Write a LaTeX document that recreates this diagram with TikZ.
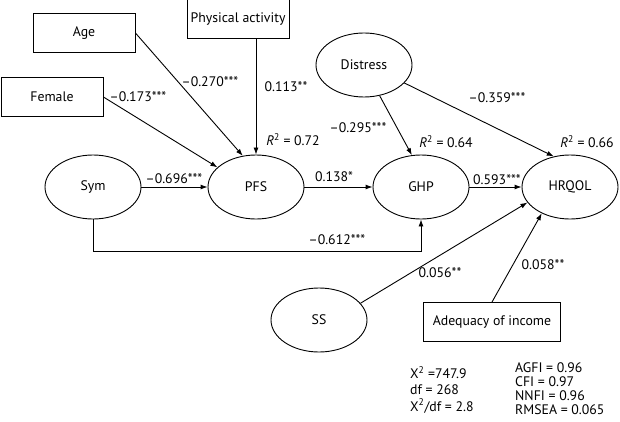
\documentclass[tikz,border=0pt]{standalone}
\usepackage{fontspec}
\setmainfont{PT Sans}
\usetikzlibrary{shapes.geometric,arrows.meta,calc}

\tikzset{
    var/.style={draw, line width=0.9pt, minimum width=102pt, minimum height=39pt, inner sep=2pt},
    latent/.style={draw, ellipse, line width=0.9pt, minimum width=96pt, minimum height=64pt},
    arr/.style={line width=0.9pt, -{Latex[length=7pt,width=5pt]}},
    coef/.style={inner sep=1pt},
    fit/.style={inner sep=0pt, anchor=west}
}

\begin{document}
\begin{tikzpicture}[x=1pt, y=-1pt, font=\fontsize{13.8}{15}\selectfont]

    \useasboundingbox (0,0) rectangle (620,422);

    % Observed variables (boxes)
    \node[var] (age) at (84,33) {Age};
    \node[var] (phys) at (238,19) {Physical activity};
    \node[var] (female) at (52,97) {Female};
    \node[var, minimum width=137pt] (income) at (492,322) {Adequacy of income};

    % Latent variables (ellipses)
    \node[latent] (sym) at (93,187) {Sym};
    \node[latent] (pfs) at (256,187) {PFS};
    \node[latent] (ghp) at (421,187) {GHP};
    \node[latent] (hrqol) at (570,187) {HRQOL};
    \node[latent] (distress) at (364,65) {Distress};
    \node[latent] (ss) at (319,320) {SS};

    % Paths
    \draw[arr] (age.east) -- (pfs.113);
    \draw[arr] (phys.south -| pfs.north) -- (pfs.north);
    \draw[arr] (female.east) -- (pfs.153);
    \draw[arr] (sym.east) -- (pfs.west);
    \draw[arr] (pfs.east) -- (ghp.west);
    \draw[arr] (ghp.east) -- (hrqol.west);
    \draw[arr] (sym.south) -- ++(0,32) -| (ghp.south);
    \draw[arr] (distress.297) -- (ghp.106);
    \draw[arr] (distress.-24) -- (hrqol.118);
    \draw[arr] (ss.22) -- (hrqol.200);
    \draw[arr] (income.north) -- (hrqol.223);

    % Path coefficients
    \node[coef] (c1) at (210,82) {--0.270***};
    \node[coef] (c2) at (286,87) {0.113**};
    \node[coef] (c3) at (138,97) {--0.173***};
    \node[coef] (c4) at (174,179) {--0.696***};
    \node[coef] (c5) at (334,177) {0.138*};
    \node[coef] (c6) at (497,180) {0.593***};
    \node[coef] (c7) at (337,240) {--0.612***};
    \node[coef] (c8) at (358,128) {--0.295***};
    \node[coef] (c9) at (497,98) {--0.359***};
    \node[coef] (c10) at (440,273) {0.056**};
    \node[coef] (c11) at (543,265) {0.058**};

    % Explained variance
    \node[coef] (r1) at (293,140) {\textit{R}\textsuperscript{2} = 0.72};
    \node[coef] (r2) at (446,142) {\textit{R}\textsuperscript{2} = 0.64};
    \node[coef] (r3) at (587,142) {\textit{R}\textsuperscript{2} = 0.66};

    % Fit indices
    \node[fit] (f1) at (410,373) {X\textsuperscript{2} =747.9};
    \node[fit] (f2) at (410,390) {df = 268};
    \node[fit] (f3) at (410,406) {X\textsuperscript{2}/df = 2.8};
    \node[fit] (f4) at (515,368) {AGFI = 0.96};
    \node[fit] (f5) at (515,382) {CFI = 0.97};
    \node[fit] (f6) at (515,396) {NNFI = 0.96};
    \node[fit] (f7) at (515,410) {RMSEA = 0.065};

\end{tikzpicture}
\end{document}
